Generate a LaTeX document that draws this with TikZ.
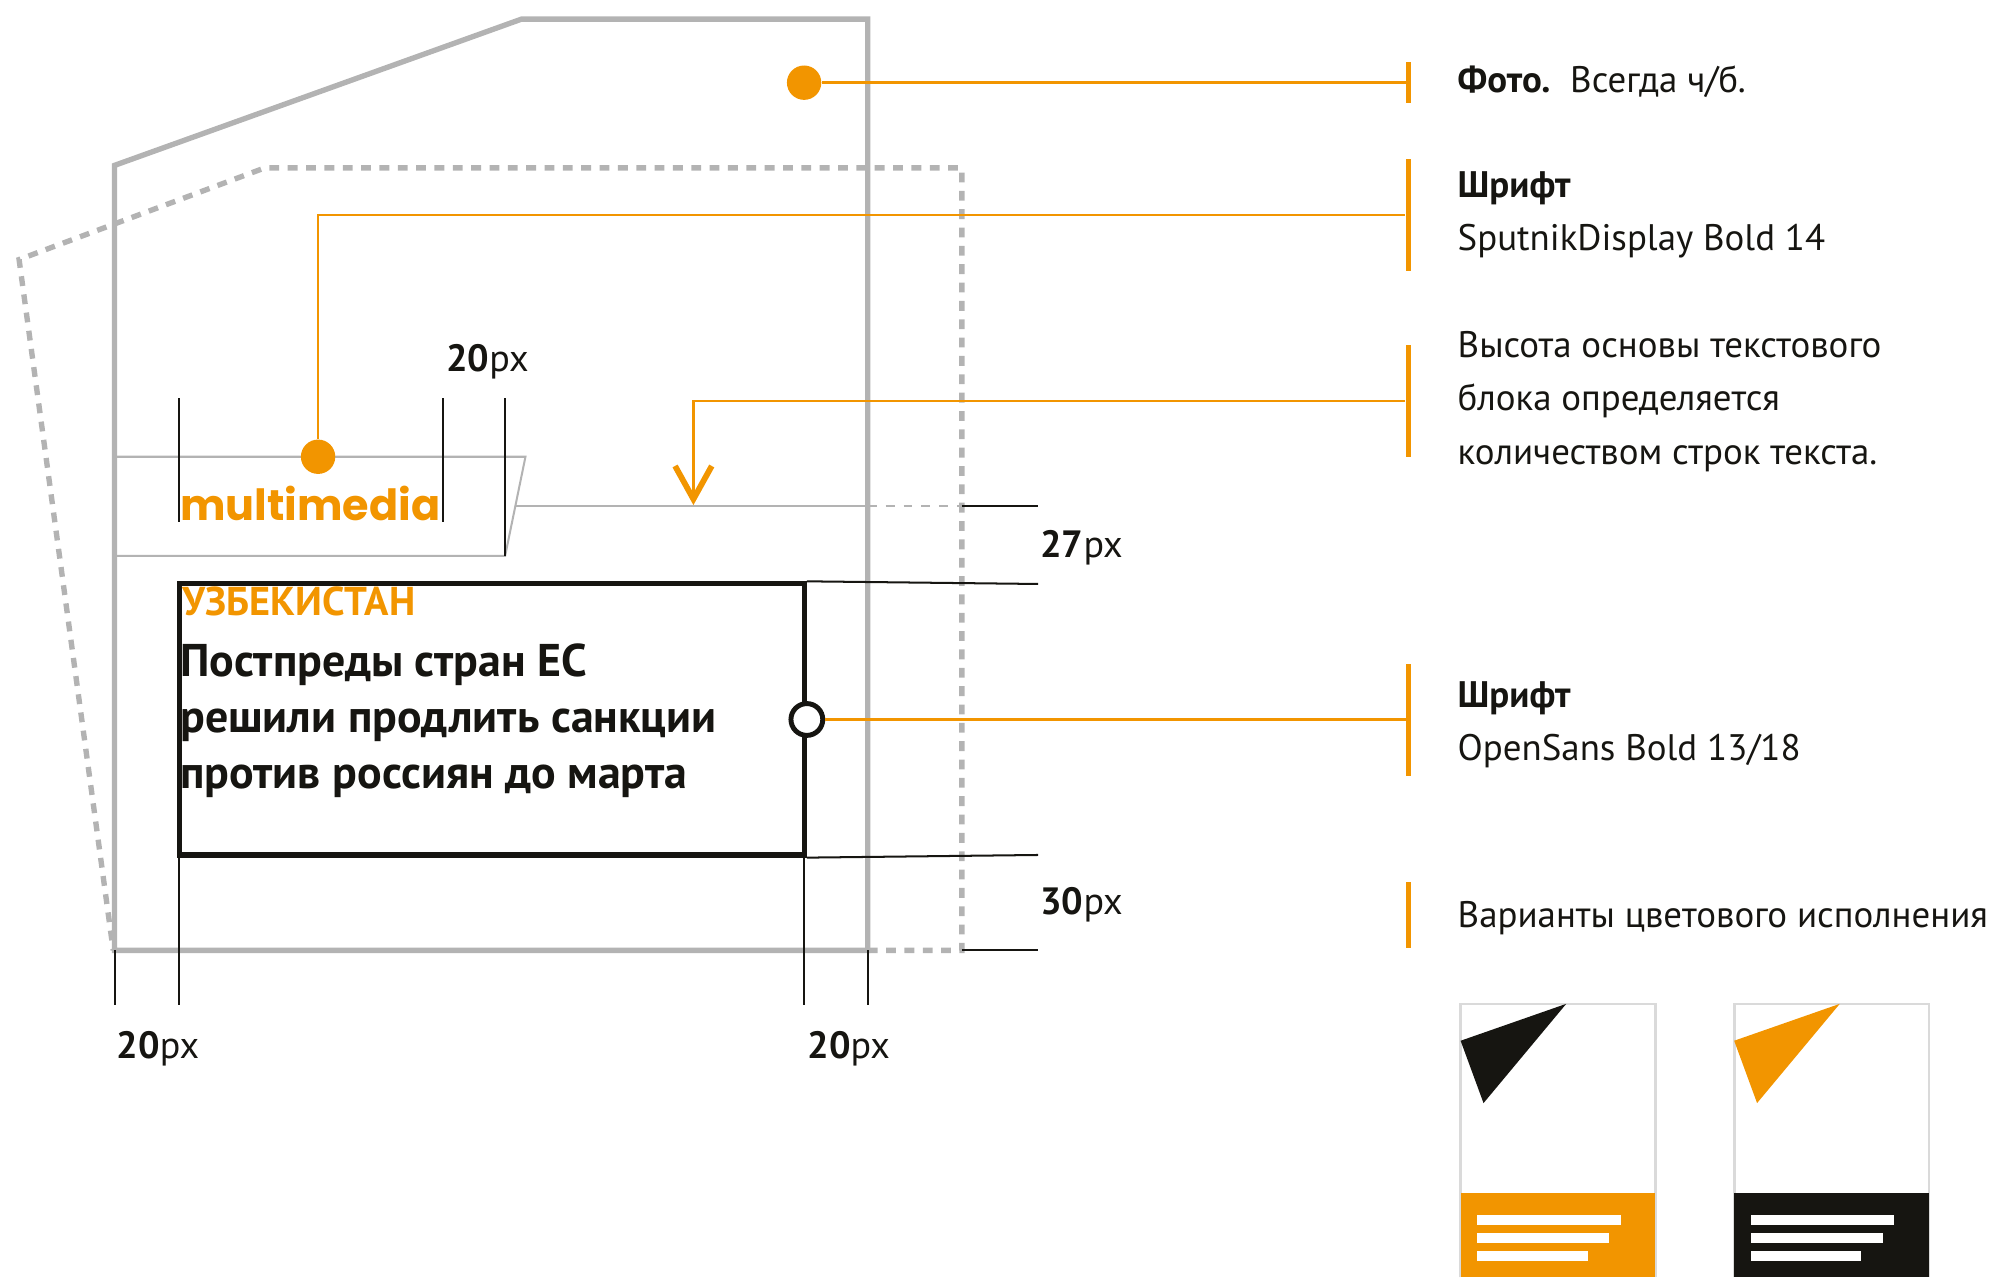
\documentclass[tikz,border=0pt]{standalone}
\usepackage{fontspec}
\setmainfont{PT Sans}
\newfontfamily\logofont{Poppins}
\usetikzlibrary{arrows.meta}
\definecolor{SpOrange}{RGB}{242,149,0}
\definecolor{SpBlack}{RGB}{22,21,17}
\definecolor{SpGray}{RGB}{179,179,179}
\definecolor{SpLight}{RGB}{218,218,218}

\begin{document}
\begin{tikzpicture}[x=0.01cm, y=-0.01cm,
          frame/.style={draw=SpGray, line width=1.2pt},
          bleed/.style={draw=SpGray, line width=1.2pt,
                        dash pattern=on 2.2pt off 1.9pt},
          guide/.style={draw=SpGray, line width=0.45pt},
          tick/.style={draw=SpBlack, line width=0.45pt},
          lead/.style={draw=SpOrange, line width=0.55pt},
          bar/.style={rectangle, fill=SpOrange, inner sep=0pt,
                      minimum width=1.3pt},
          dot/.style={circle, fill=SpOrange, inner sep=0pt,
                      minimum size=0.27cm},
          ring/.style={circle, draw=SpBlack, fill=white, line width=1.1pt,
                       inner sep=0pt, minimum size=0.25cm},
          card/.style={rectangle, draw=SpBlack, line width=1.15pt,
                       inner sep=0pt, minimum width=4.91cm,
                       minimum height=2.13cm},
          note/.style={anchor=base west, inner sep=0pt, align=left,
                       text=SpBlack,
                       font=\fontsize{8.25}{11.95}\selectfont},
          dim/.style={anchor=base west, inner sep=0pt, text=SpBlack,
                      font=\fontsize{8.5}{10}\selectfont}
        ]
        \useasboundingbox (0,0) rectangle (1568,1004);

        % photo area and bleed
        \draw[bleed] (682,747) -- (756,747) -- (756,132) -- (208,132)
              -- (15,204) -- (89,747);
        \draw[frame] (90,747) -- (90,130) -- (410,15) -- (682,15)
              -- (682,747) -- cycle;

        % logo plate
        \draw[guide] (90,359) -- (413,359) -- (397,437) -- (90,437);
        \draw[guide] (405,398) -- (682,398);
        \draw[guide, dash pattern=on 2pt off 2pt] (682,398) -- (756,398);
        \node[anchor=base west, inner sep=0pt, text=SpOrange,
              font=\logofont\bfseries\fontsize{9.6}{12}\selectfont]
              (logo) at (141,409) {multimedia};

        % text card
        \node[card] (card) at (386.5,565.5) {};
        \node[anchor=base west, inner sep=0pt, text=SpOrange,
              font=\bfseries\fontsize{9}{10}\selectfont]
              (tag) at (143,484) {УЗБЕКИСТАН};
        \node[anchor=base west, inner sep=0pt, align=left, text=SpBlack,
              font=\bfseries\fontsize{10.25}{12.6}\selectfont]
              (headline) at (141,620)
              {Постпреды стран ЕС\\решили продлить санкции\\против россиян до марта};

        % measures
        \foreach \x/\yb in {141/410, 348/410, 397/437}{
          \draw[tick] (\x,313) -- (\x,\yb);
        }
        \foreach \x/\yt in {90/747, 141/672, 632/672, 682/747}{
          \draw[tick] (\x,\yt) -- (\x,790);
        }
        \draw[tick] (756,398) -- (816,398);
        \draw[tick] (card.north east) -- (816,459);
        \draw[tick] (card.south east) -- (816,672);
        \draw[tick] (756,747) -- (816,747);

        \node[dim] (gaplogo)  at (350,292) {\textbf{20}px};
        \node[dim] (gaptop)   at (817,438) {\textbf{27}px};
        \node[dim] (gapbot)   at (817,719) {\textbf{30}px};
        \node[dim] (gapleft)  at (91,832)  {\textbf{20}px};
        \node[dim] (gapright) at (634,832) {\textbf{20}px};

        % callouts
        \node[dot] (photodot) at (632,65) {};
        \node[dot] (logodot) at (250,359) {};
        \node[ring] (ring) at (card.east) {};
        \coordinate (basetip) at (545,397);

        \node[bar, minimum height=0.32cm] (b1) at (1107,65) {};
        \node[bar, minimum height=0.88cm] (b2) at (1107,169) {};
        \node[bar, minimum height=0.88cm] (b3) at (1107,315) {};
        \node[bar, minimum height=0.88cm] (b4) at (1107,566) {};
        \node[bar, minimum height=0.52cm] (b5) at (1107,719) {};

        \draw[lead] (photodot) -- (photodot -| b1);
        \draw[lead] (logodot) |- (b2);
        \draw[lead, -{Straight Barb[length=7.4pt, width=8.2pt, line width=1.3pt]}]
              (b3) -| (basetip);
        \draw[lead] (ring.east) -- (ring -| b4);

        \node[note] (photonote) at (1145,73)
              {\textbf{Фото.}\ \ Всегда ч/б.};
        \node[note] (logonote) at (1145,197)
              {\textbf{Шрифт}\\SputnikDisplay Bold 14};
        \node[note] (basenote) at (1145,365)
              {Высота основы текстового\\блока определяется\\количеством строк текста.};
        \node[note] (headnote) at (1145,598)
              {\textbf{Шрифт}\\OpenSans Bold 13/18};
        \node[note] (colournote) at (1145,729)
              {Варианты цветового исполнения};

        % colour variants
        \foreach \x/\flap/\band in {1148/SpBlack/SpOrange, 1363/SpOrange/SpBlack}{
          \begin{scope}[shift={(\x,0)}]
            \draw[SpLight, line width=0.6pt] (0,1004) -- (0,789) -- (153,789)
                  -- (153,1004);
            \fill[\flap] (0,818) -- (83,789) -- (18,867) -- cycle;
            \fill[\band] (0,938) rectangle (153,1004);
            \foreach \w/\y in {113/955, 104/969, 87/983}{
              \fill[white] (13,\y) rectangle ++(\w,8);
            }
          \end{scope}
        }
      \end{tikzpicture}
\end{document}
